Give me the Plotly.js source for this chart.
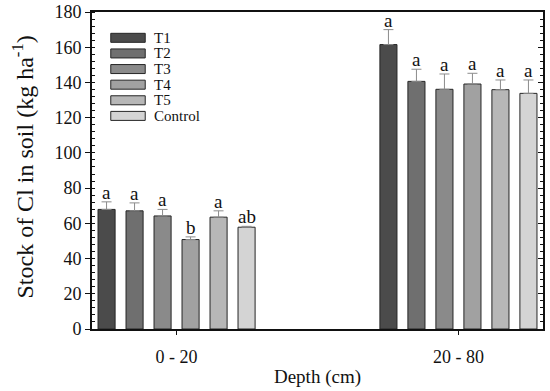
<!DOCTYPE html>
<html>
<head>
<meta charset="utf-8">
<script src="https://cdn.plot.ly/plotly-3.0.1.min.js"></script>
<style>html,body{margin:0;padding:0;background:#fff;}#chart{width:550px;height:391px;}</style>
</head>
<body>
<div id="chart"></div>
<script>
const categories = ["0 - 20", "20 - 80"];
const seriesNames = ["T1", "T2", "T3", "T4", "T5", "Control"];
const T1 = [67.9, 161.5];
const T2 = [67.1, 140.6];
const T3 = [64.2, 136.1];
const T4 = [50.8, 139.1];
const T5 = [63.5, 135.9];
const Control = [57.8, 133.8];
const errT1 = [4.3, 8.5];
const errT2 = [4.5, 6.9];
const errT3 = [3.7, 8.7];
const errT4 = [1.5, 6.1];
const errT5 = [3.6, 5.5];
const errControl = [0.5, 7.6];
const letters = {
  T1: ["a", "a"], T2: ["a", "a"], T3: ["a", "a"],
  T4: ["b", "a"], T5: ["a", "a"], Control: ["ab", "a"]
};
const yTicks = [0, 20, 40, 60, 80, 100, 120, 140, 160, 180];

const values = [T1, T2, T3, T4, T5, Control];
const errors = [errT1, errT2, errT3, errT4, errT5, errControl];
const colors = ["#4b4b4b", "#6f6f6f", "#8a8a8a", "#a1a1a1", "#b7b7b7", "#d4d4d4"];
const FONT = "Liberation Serif";
const bargap = 0.404;
const nS = seriesNames.length;

const traces = seriesNames.map((n, i) => ({
  type: "bar", name: n, x: categories, y: values[i],
  marker: {color: colors[i], line: {color: "#262626", width: 1}},
  error_y: {type: "data", array: errors[i], symmetric: false, arrayminus: errors[i].map(() => 0),
            color: "#8c8c8c", thickness: 1, width: 5},
  showlegend: false, cliponaxis: false
}));

const annotations = [];
seriesNames.forEach((n, i) => {
  categories.forEach((c, j) => {
    annotations.push({
      xref: "x", yref: "y",
      x: j + (i - (nS - 1) / 2) * (1 - bargap) / nS,
      y: values[i][j] + errors[i][j],
      text: letters[n][j], showarrow: false, yanchor: "bottom", yshift: -3,
      font: {family: FONT, size: 19, color: "#111"}
    });
  });
});

// custom legend (wide swatches) and y title placement
const shapes = [];
const L = 91.7, R = 543.3, T = 12, B = 328.7;
const px = v => (v - L) / (R - L);
const py = v => (B - v) / (B - T);
seriesNames.forEach((n, i) => {
  const cy = 37.8 + i * 15.6;
  shapes.push({type: "rect", xref: "paper", yref: "paper",
    x0: px(110.5), x1: px(145), y0: py(cy + 4.5), y1: py(cy - 4.5),
    fillcolor: colors[i], line: {color: "#262626", width: 1}});
  annotations.push({xref: "paper", yref: "paper", x: px(152), y: py(cy),
    xanchor: "left", yanchor: "middle", showarrow: false, text: n,
    font: {family: FONT, size: 15, color: "#111"}});
});
annotations.push({xref: "paper", yref: "paper", x: px(23), y: py(167),
  xanchor: "center", yanchor: "middle", textangle: -90, showarrow: false,
  text: "Stock of Cl in soil (kg ha<sup>-1</sup>)",
  font: {family: FONT, size: 24, color: "#111"}});

const layout = {
  width: 550, height: 391,
  margin: {l: 91.7, r: 550 - 543.3, t: 12, b: 391 - 328.7},
  paper_bgcolor: "#fff", plot_bgcolor: "#fff",
  barmode: "group", bargap: bargap, bargroupgap: 0.39,
  font: {family: FONT, color: "#111"},
  xaxis: {
    type: "category", range: [-0.3, 1.3],
    showline: true, linecolor: "#111", linewidth: 2, mirror: true,
    ticks: "outside", ticklen: 4, tickcolor: "#111", tickwidth: 1,
    ticklabelstandoff: 6,
    tickfont: {family: FONT, size: 18, color: "#111"},
    showgrid: false, zeroline: false,
    title: {text: "Depth (cm)", font: {family: FONT, size: 19, color: "#111"}, standoff: 4}
  },
  yaxis: {
    range: [0, 180], tickvals: yTicks, ticktext: yTicks.map(String),
    showline: true, linecolor: "#111", linewidth: 2,
    ticks: "outside", ticklen: 5, tickcolor: "#111", tickwidth: 1,
    minor: {dtick: 4, ticks: "inside", ticklen: 3, tickcolor: "#111", showgrid: false},
    tickfont: {family: FONT, size: 18, color: "#111"},
    showgrid: false, zeroline: false
  },
  yaxis2: {
    overlaying: "y", side: "right", range: [0, 180], tickvals: yTicks,
    showticklabels: false, showline: true, linecolor: "#111", linewidth: 2,
    ticks: "inside", ticklen: 5, tickcolor: "#111",
    minor: {dtick: 4, ticks: "inside", ticklen: 3, tickcolor: "#111", showgrid: false},
    showgrid: false, zeroline: false
  },
  shapes: shapes,
  annotations: annotations
};

traces.push({type: "scatter", x: [categories[0]], y: [0], yaxis: "y2", mode: "markers",
  marker: {opacity: 0}, showlegend: false, hoverinfo: "skip"});

Plotly.newPlot("chart", traces, layout, {displayModeBar: false, staticPlot: true});
</script>
</body>
</html>
